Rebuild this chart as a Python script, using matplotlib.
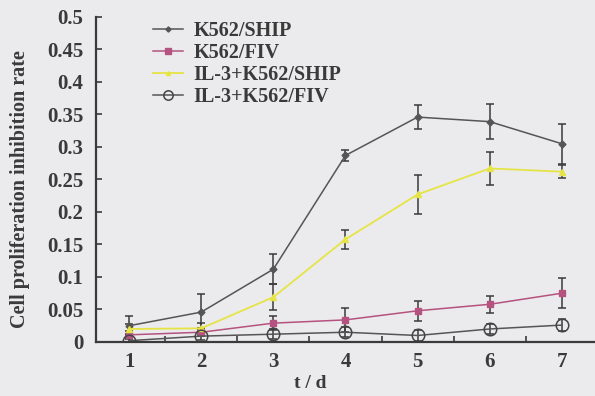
import matplotlib
matplotlib.use("Agg")
import matplotlib.pyplot as plt
from matplotlib.ticker import FixedLocator

# data
days = [1, 2, 3, 4, 5, 6, 7]

ship = [0.025, 0.046, 0.112, 0.287, 0.346, 0.339, 0.305]
ship_err = [0.015, 0.028, 0.023, 0.009, 0.019, 0.027, 0.031]

fiv = [0.011, 0.015, 0.029, 0.034, 0.048, 0.058, 0.075]
fiv_err = [0.006, 0.006, 0.011, 0.019, 0.015, 0.013, 0.023]

il3_ship = [0.020, 0.021, 0.069, 0.158, 0.227, 0.267, 0.262]
il3_ship_err = [0.008, 0.008, 0.020, 0.015, 0.030, 0.025, 0.010]

il3_fiv = [0.002, 0.009, 0.012, 0.015, 0.010, 0.020, 0.026]
il3_fiv_err = [0.004, 0.006, 0.008, 0.008, 0.008, 0.007, 0.009]

labels = ["K562/SHIP", "K562/FIV", "IL-3+K562/SHIP", "IL-3+K562/FIV"]

bg = "#ebebed"
ink = "#3a3a3a"
plt.rcParams["font.family"] = ["Liberation Serif", "DejaVu Serif"]
plt.rcParams["font.weight"] = "bold"

fig = plt.figure(figsize=(5.95, 3.96), dpi=100, facecolor=bg)
ax = fig.add_axes([0.1613, 0.1364, 0.8387, 0.8207], facecolor=bg)

ekw = dict(ecolor=ink, elinewidth=1.1, capsize=3, capthick=1.1)
c1 = ax.errorbar(days, ship, yerr=ship_err, color="#555555", marker="D", ms=3.5,
                 lw=1.1, **ekw)
c2 = ax.errorbar(days, fiv, yerr=fiv_err, color="#b5527f", marker="s", ms=5,
                 lw=1.1, **ekw)
c3 = ax.errorbar(days, il3_ship, yerr=il3_ship_err, color="#e6e445", marker="^",
                 ms=4, lw=1.3, **ekw)
c4 = ax.errorbar(days, il3_fiv, yerr=il3_fiv_err, color="#555555", marker="o",
                 ms=9, mfc="none", mec="#444444", mew=1.1, lw=1.1, **ekw)

ax.set_xlim(0.54, 7.46)
ax.set_ylim(0, 0.5)
ax.set_yticks([0, 0.05, 0.1, 0.15, 0.2, 0.25, 0.3, 0.35, 0.4, 0.45, 0.5])
ax.set_yticklabels(["0", "0.05", "0.1", "0.15", "0.2", "0.25", "0.3",
                    "0.35", "0.4", "0.45", "0.5"])
ax.set_xticks(days)
ax.xaxis.set_minor_locator(FixedLocator([1.5, 2.5, 3.5, 4.5, 5.5, 6.5]))
ax.tick_params(axis="x", which="major", length=0, pad=7, labelsize=15, colors=ink)
ax.tick_params(axis="x", which="minor", length=4, width=1.2, direction="in", color=ink)
ax.tick_params(axis="y", length=4, width=1.2, direction="in", labelsize=15,
               colors=ink, pad=9)

for s in ["top", "right"]:
    ax.spines[s].set_visible(False)
for s in ["left", "bottom"]:
    ax.spines[s].set_color(ink)
    ax.spines[s].set_linewidth(1.6)

fig.text(310 / 595, 1 - 384 / 396, "t / d", fontsize=14, fontweight="bold",
         color=ink, ha="center", va="center")
fig.text(20 / 595, 1 - 189 / 396, "Cell proliferation inhibition rate",
         fontsize=14.5, fontweight="bold", color=ink, rotation=90,
         ha="center", va="center")

handles = [c[0] for c in (c1, c2, c3, c4)]
leg = fig.legend(handles, labels, loc="upper left",
                 bbox_to_anchor=(153 / 595, 1 - 21 / 396), frameon=False,
                 fontsize=14.5, handlelength=1.5, handletextpad=0.5,
                 labelspacing=0.1, borderpad=0, borderaxespad=0,
                 markerscale=0.75)
for t in leg.get_texts():
    t.set_color(ink)

fig.savefig("out.png", dpi=100, facecolor=bg)
